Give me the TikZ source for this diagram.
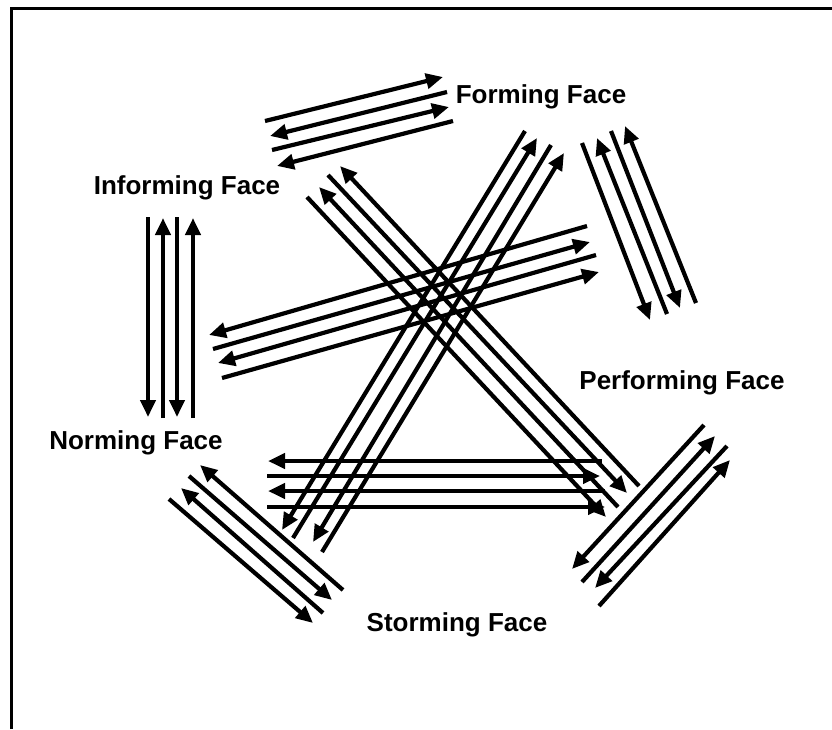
\documentclass[tikz,border=0pt]{standalone}
\usepackage{fontspec}
\setmainfont{Liberation Sans}
\usetikzlibrary{arrows.meta}
\tikzset{
  ln/.style={line width=4.2pt, line cap=butt},
  arr/.style={ln, -{Triangle[length=17pt,width=15pt]}},
  lbl/.style={font=\fontsize{26}{30}\selectfont\bfseries, inner sep=0pt}
}
\begin{document}
\begin{tikzpicture}[x=1pt,y=-1pt]
\useasboundingbox (0,0) rectangle (832,729);
% frame
\draw[line width=2.4pt] (11.5,729) -- (11.5,8.5) -- (832,8.5);
% labels
\node[lbl] (forming) at (541,97) {Forming Face};
\node[lbl] (informing) at (187,188) {Informing Face};
\node[lbl] (performing) at (682,383) {Performing Face};
\node[lbl] (norming) at (136,443) {Norming Face};
\node[lbl] (storming) at (457,625) {Storming Face};
% group 1: Informing <-> Forming
\draw[arr] (265,121) -- (443,77);
\draw[arr] (447,92) -- (270,136);
\draw[arr] (272,150) -- (449,107);
\draw[arr] (453,121) -- (277,166);
% group 2: Forming <-> Performing
\draw[arr] (582,143) -- (650,320);
\draw[arr] (667,314) -- (597,138);
\draw[arr] (611,131) -- (680,308);
\draw[arr] (696,303) -- (625,126);
% group 3: Informing <-> Norming
\draw[arr] (148,217) -- (148,417);
\draw[arr] (163,418) -- (163,218);
\draw[arr] (177,217) -- (177,417);
\draw[arr] (193,418) -- (193,218);
% group 4: Norming <-> Storming
\draw[arr] (343,590) -- (200,465);
\draw[arr] (189,476) -- (332,600);
\draw[arr] (323,613) -- (181,488);
\draw[arr] (169,499) -- (313,623);
% group 5: Storming <-> Performing
\draw[arr] (704,425) -- (572,569);
\draw[arr] (582,582) -- (715,436);
\draw[arr] (727,446) -- (595,588);
\draw[arr] (599,606) -- (730,460);
% group 6: Norming <-> Performing
\draw[arr] (602,461) -- (268,461);
\draw[arr] (267,476) -- (600,476);
\draw[arr] (605,491) -- (268,491);
\draw[arr] (267,507) -- (605,507);
% group 7: Informing <-> Performing
\draw[arr] (307,197) -- (606,517);
\draw[arr] (618,507) -- (319,187);
\draw[arr] (328,175) -- (627,493);
\draw[arr] (639,486) -- (340,166);
% group 8: Forming <-> Storming
\draw[arr] (525,131) -- (282,530);
\draw[arr] (293,538) -- (537,138);
\draw[arr] (551,145) -- (313,542);
\draw[arr] (322,552) -- (564,153);
% group 9: Norming <-> Forming/Performing
\draw[arr] (587,226) -- (209,335);
\draw[arr] (213,349) -- (590,242);
\draw[arr] (596,255) -- (218,363);
\draw[arr] (222,378) -- (599,272);
\end{tikzpicture}
\end{document}
